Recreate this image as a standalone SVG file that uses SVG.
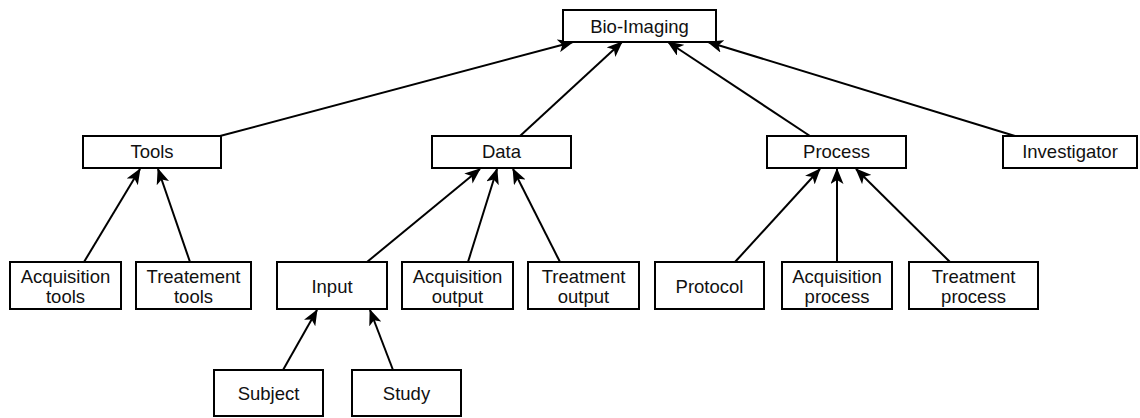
<svg xmlns="http://www.w3.org/2000/svg" width="1140" height="418" viewBox="0 0 1140 418">
<style>
.box{fill:#fff;stroke:#000;stroke-width:2}
.t{font-family:"Liberation Sans",Arial,sans-serif;font-size:18.5px;fill:#111;text-anchor:middle}
.c{stroke:#000;stroke-width:2;fill:none;marker-end:url(#ah)}
</style>
<defs>
<marker id="ah" viewBox="0 0 16 13" refX="15" refY="6.5" markerWidth="16" markerHeight="13" markerUnits="userSpaceOnUse" orient="auto">
<path d="M0,0 L16,6.5 L0,13 L4,6.5 z" fill="#000"/>
</marker>
</defs>
<rect width="1140" height="418" fill="#fff"/>
<g id="connectors">
<line class="c" x1="220" y1="136" x2="573" y2="42"/>
<line class="c" x1="520" y1="136" x2="622" y2="42"/>
<line class="c" x1="810" y1="136" x2="668" y2="42"/>
<line class="c" x1="1015" y1="136" x2="708" y2="42"/>
<line class="c" x1="84" y1="262" x2="140" y2="169"/>
<line class="c" x1="190" y1="262" x2="158" y2="169"/>
<line class="c" x1="367" y1="262" x2="480" y2="169"/>
<line class="c" x1="468" y1="262" x2="497" y2="169"/>
<line class="c" x1="560" y1="262" x2="513" y2="169"/>
<line class="c" x1="735" y1="262" x2="820" y2="169"/>
<line class="c" x1="837" y1="262" x2="837" y2="169"/>
<line class="c" x1="950" y1="262" x2="856" y2="169"/>
<line class="c" x1="283" y1="370" x2="317" y2="310"/>
<line class="c" x1="393" y1="370" x2="370" y2="310"/>
</g>
<g id="bio-imaging"><rect class="box" x="563" y="10" width="153" height="32"/><text class="t" x="639.5" y="33">Bio-Imaging</text></g>
<g id="tools"><rect class="box" x="83" y="136" width="138" height="32"/><text class="t" x="152" y="158">Tools</text></g>
<g id="data"><rect class="box" x="432" y="136" width="139" height="32"/><text class="t" x="501.5" y="158">Data</text></g>
<g id="process"><rect class="box" x="767" y="136" width="139" height="32"/><text class="t" x="836.5" y="158">Process</text></g>
<g id="investigator"><rect class="box" x="1003" y="136" width="134" height="32"/><text class="t" x="1070" y="158">Investigator</text></g>
<g id="acquisition-tools"><rect class="box" x="10" y="262" width="111" height="47"/><text class="t" x="65.5" y="283">Acquisition</text><text class="t" x="65.5" y="303">tools</text></g>
<g id="treatement-tools"><rect class="box" x="136" y="262" width="115" height="47"/><text class="t" x="193.5" y="283">Treatement</text><text class="t" x="193.5" y="303">tools</text></g>
<g id="input"><rect class="box" x="277" y="262" width="110" height="47"/><text class="t" x="332" y="293">Input</text></g>
<g id="acquisition-output"><rect class="box" x="402" y="262" width="111" height="47"/><text class="t" x="457.5" y="283">Acquisition</text><text class="t" x="457.5" y="303">output</text></g>
<g id="treatment-output"><rect class="box" x="528" y="262" width="111" height="47"/><text class="t" x="583.5" y="283">Treatment</text><text class="t" x="583.5" y="303">output</text></g>
<g id="protocol"><rect class="box" x="655" y="262" width="109" height="47"/><text class="t" x="709.5" y="293">Protocol</text></g>
<g id="acquisition-process"><rect class="box" x="782" y="262" width="110" height="47"/><text class="t" x="837" y="283">Acquisition</text><text class="t" x="837" y="303">process</text></g>
<g id="treatment-process"><rect class="box" x="909" y="262" width="129" height="47"/><text class="t" x="973.5" y="283">Treatment</text><text class="t" x="973.5" y="303">process</text></g>
<g id="subject"><rect class="box" x="214" y="370" width="109" height="46"/><text class="t" x="268.5" y="400">Subject</text></g>
<g id="study"><rect class="box" x="352" y="370" width="109" height="46"/><text class="t" x="406.5" y="400">Study</text></g>
</svg>
